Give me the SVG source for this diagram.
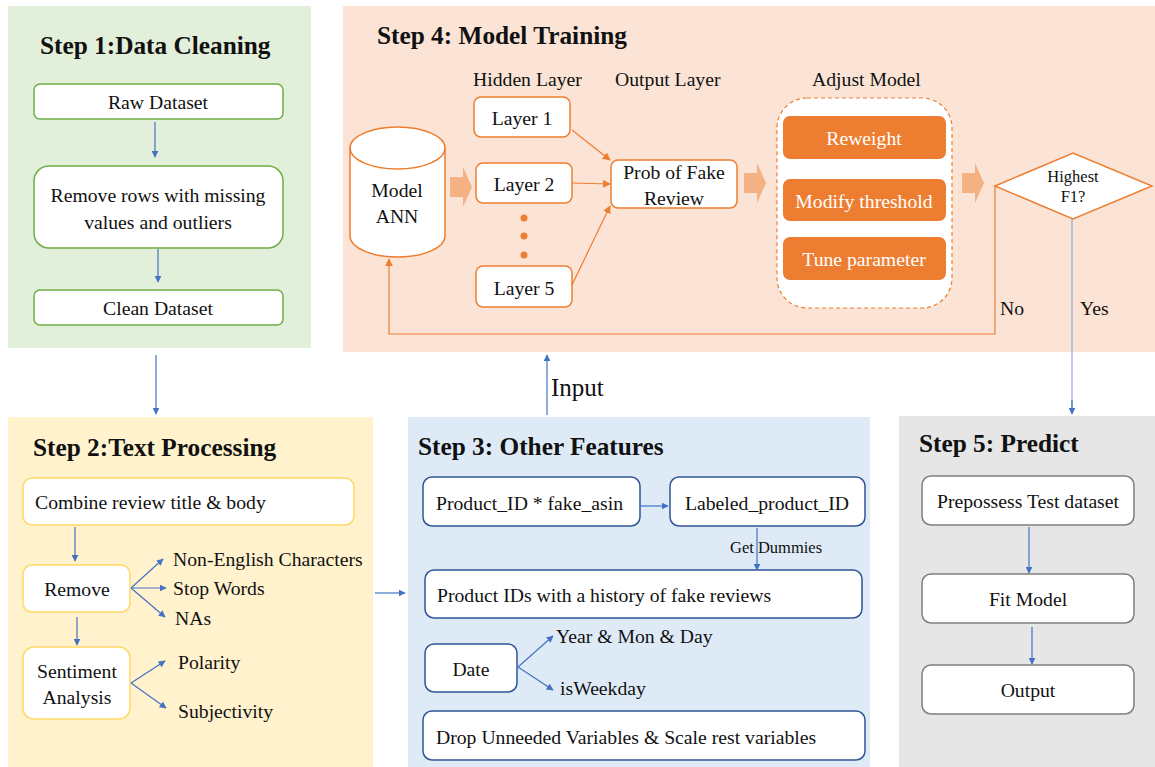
<svg xmlns="http://www.w3.org/2000/svg" width="1155" height="767" viewBox="0 0 1155 767">
<defs>
<style>
text{font-family:"Liberation Serif","Times New Roman",serif;fill:#111}
.t{font-size:25.3px;font-weight:bold}
.b{font-size:19.7px}
.s{font-size:16.5px}
.m{text-anchor:middle}
.g{fill:#fff;stroke:#70AD47;stroke-width:1.5}
.y{fill:#fff;stroke:#FFD966;stroke-width:1.5}
.bl{fill:#fff;stroke:#2F5597;stroke-width:1.5}
.gr{fill:#fff;stroke:#7F7F7F;stroke-width:1.5}
.o{fill:#fff;stroke:#ED7D31;stroke-width:1.5}
.of{fill:#ED7D31;stroke:none}
text.w{fill:#fff}
.ab{stroke:#4472C4;stroke-width:1.2;fill:none}
.ao{stroke:#ED7D31;stroke-width:1.2;fill:none}
.blk{fill:#F4B183}
</style>
<marker id="mb" viewBox="0 0 10 10" refX="9" refY="5" markerWidth="7" markerHeight="7" orient="auto" markerUnits="userSpaceOnUse"><path d="M0,0L10,5L0,10z" fill="#4472C4"/></marker>
<marker id="mo" viewBox="0 0 10 10" refX="9" refY="5" markerWidth="8" markerHeight="8" orient="auto" markerUnits="userSpaceOnUse"><path d="M0,0L10,5L0,10z" fill="#ED7D31"/></marker>
</defs>
<rect width="1155" height="767" fill="#fff"/>
<!-- panels -->
<g id="step1">
<rect x="8" y="6" width="303" height="342" fill="#E2EFDA"/>
<text class="t" x="40" y="54">Step 1:Data Cleaning</text>
</g>
<g id="step4">
<rect x="343" y="6" width="812" height="346" fill="#FBE4D5"/>
<text class="t" x="377" y="44">Step 4: Model Training</text>
<text class="b" x="473" y="86">Hidden Layer</text>
<text class="b" x="615" y="86">Output Layer</text>
<text class="b" x="812" y="86">Adjust Model</text>
</g>
<g id="step2">
<rect x="8" y="417" width="365" height="350" fill="#FFF2CC"/>
<text class="t" x="33" y="456">Step 2:Text Processing</text>
</g>
<g id="step3">
<rect x="408" y="417" width="462" height="350" fill="#DEEBF7"/>
<text class="t" x="418" y="455">Step 3: Other Features</text>
</g>
<g id="step5">
<rect x="899" y="416" width="256" height="351" fill="#E6E6E6"/>
<text class="t" x="919" y="452">Step 5: Predict</text>
</g>
<!-- step 1 nodes -->
<g id="raw"><rect class="g" x="34" y="84" width="249" height="35" rx="6"/><text class="b m" x="158" y="109">Raw Dataset</text></g>
<g id="removeRows"><rect class="g" x="34" y="166" width="249" height="82" rx="15"/><text class="b m" x="158" y="202">Remove rows with missing</text><text class="b m" x="158" y="229">values and outliers</text></g>
<g id="clean"><rect class="g" x="34" y="290" width="249" height="35" rx="6"/><text class="b m" x="158" y="315">Clean Dataset</text></g>
<!-- step 4 nodes -->
<g id="ann">
<path d="M350,148 V236 A47.5,21 0 0 0 445,236 V148" class="o"/>
<ellipse cx="397.5" cy="148" rx="47.5" ry="21" class="o"/>
<text class="b m" x="397" y="197">Model</text><text class="b m" x="397" y="223">ANN</text>
</g>
<g id="layer1"><rect class="o" x="474" y="97" width="96" height="40" rx="7"/><text class="b m" x="522" y="125">Layer 1</text></g>
<g id="layer2"><rect class="o" x="476" y="163" width="96" height="40" rx="7"/><text class="b m" x="524" y="191">Layer 2</text></g>
<g id="dots" fill="#ED7D31"><circle cx="524" cy="218" r="3.5"/><circle cx="524" cy="236" r="3.5"/><circle cx="524" cy="255" r="3.5"/></g>
<g id="layer5"><rect class="o" x="476" y="266" width="96" height="41" rx="7"/><text class="b m" x="524" y="295">Layer 5</text></g>
<g id="prob"><rect class="o" x="611" y="160" width="126" height="48" rx="7"/><text class="b m" x="674" y="179">Prob of Fake</text><text class="b m" x="674" y="205">Review</text></g>
<g id="adjust"><rect x="777" y="98" width="175" height="210" rx="30" fill="#fff" stroke="#ED7D31" stroke-width="1.2" stroke-dasharray="4,3"/></g>
<g id="reweight"><rect class="of" x="783" y="116" width="163" height="43" rx="7"/><text class="b m w" x="864" y="145">Reweight</text></g>
<g id="threshold"><rect class="of" x="783" y="179" width="163" height="42" rx="7"/><text class="b m w" x="864" y="208">Modify threshold</text></g>
<g id="tune"><rect class="of" x="783" y="237" width="163" height="43" rx="7"/><text class="b m w" x="864" y="266">Tune parameter</text></g>
<g id="highest"><path d="M995,186 L1073,153 L1152,186 L1073,219 Z" class="o"/><text class="m" x="1073" y="182" font-size="16.5">Highest</text><text class="m" x="1073" y="202" font-size="16.5">F1?</text></g>
<!-- step 2 nodes -->
<g id="combine"><rect class="y" x="23" y="478" width="331" height="47" rx="9"/><text class="b" x="35" y="509">Combine review title &amp; body</text></g>
<g id="remove"><rect class="y" x="23" y="565" width="107" height="47" rx="9"/><text class="b m" x="77" y="596">Remove</text></g>
<g id="sentiment"><rect class="y" x="23" y="647" width="107" height="72" rx="11"/><text class="b m" x="77" y="678">Sentiment</text><text class="b m" x="77" y="704">Analysis</text></g>
<text class="b" x="173" y="566">Non-English Characters</text>
<text class="b" x="173" y="595">Stop Words</text>
<text class="b" x="175" y="625">NAs</text>
<text class="b" x="178" y="669">Polarity</text>
<text class="b" x="178" y="718">Subjectivity</text>
<!-- step 3 nodes -->
<g id="productID"><rect class="bl" x="423" y="477" width="217" height="49" rx="9"/><text class="b" x="436" y="510">Product_ID * fake_asin</text></g>
<g id="labeled"><rect class="bl" x="670" y="477" width="195" height="49" rx="9"/><text class="b m" x="767" y="510">Labeled_product_ID</text></g>
<g id="history"><rect class="bl" x="425" y="570" width="437" height="48" rx="9"/><text class="b" x="437" y="602">Product IDs with a history of fake reviews</text></g>
<g id="date"><rect class="bl" x="425" y="644" width="92" height="48" rx="9"/><text class="b m" x="471" y="676">Date</text></g>
<g id="drop"><rect class="bl" x="423" y="711" width="442" height="49" rx="9"/><text class="b" x="436" y="744">Drop Unneeded Variables &amp; Scale rest variables</text></g>
<text class="b" x="556" y="643">Year &amp; Mon &amp; Day</text>
<text class="b" x="560" y="695">isWeekday</text>
<!-- step 5 nodes -->
<g id="prep"><rect class="gr" x="922" y="476" width="212" height="49" rx="9"/><text class="b m" x="1028" y="508">Prepossess Test dataset</text></g>
<g id="fit"><rect class="gr" x="922" y="574" width="212" height="49" rx="9"/><text class="b m" x="1028" y="606">Fit Model</text></g>
<g id="output"><rect class="gr" x="922" y="665" width="212" height="49" rx="9"/><text class="b m" x="1028" y="697">Output</text></g>
<!-- connectors -->
<g id="connectors">
<line class="ab" x1="155" y1="122" x2="155" y2="157" marker-end="url(#mb)"/>
<line class="ab" x1="158" y1="249" x2="158" y2="282" marker-end="url(#mb)"/>
<line class="ab" x1="156" y1="355" x2="156" y2="414" marker-end="url(#mb)"/>
<line class="ab" x1="75" y1="527" x2="75" y2="561" marker-end="url(#mb)"/>
<line class="ab" x1="131" y1="588" x2="163" y2="559" marker-end="url(#mb)"/>
<line class="ab" x1="131" y1="588" x2="166" y2="588" marker-end="url(#mb)"/>
<line class="ab" x1="131" y1="588" x2="165" y2="617" marker-end="url(#mb)"/>
<line class="ab" x1="77" y1="617" x2="77" y2="645" marker-end="url(#mb)"/>
<line class="ab" x1="131" y1="683" x2="165" y2="661" marker-end="url(#mb)"/>
<line class="ab" x1="131" y1="683" x2="166" y2="708" marker-end="url(#mb)"/>
<line class="ab" x1="375" y1="593" x2="405" y2="593" marker-end="url(#mb)"/>
<line class="ab" x1="640" y1="506" x2="668" y2="506" marker-end="url(#mb)"/>
<line class="ab" x1="757" y1="528" x2="757" y2="570" marker-end="url(#mb)"/>
<text class="s" x="730" y="553">Get Dummies</text>
<line class="ab" x1="518" y1="667" x2="553" y2="636" marker-end="url(#mb)"/>
<line class="ab" x1="518" y1="667" x2="553" y2="690" marker-end="url(#mb)"/>
<line class="ab" x1="1029" y1="527" x2="1029" y2="573" marker-end="url(#mb)"/>
<line class="ab" x1="1032" y1="627" x2="1032" y2="664" marker-end="url(#mb)"/>
<line class="ab" x1="547" y1="415" x2="547" y2="355" marker-end="url(#mb)"/>
<text x="551" y="396" font-size="25">Input</text>
<line x1="1072" y1="219" x2="1072" y2="413" stroke="#8FAADC" stroke-width="1.2"/>
<line class="ab" x1="1072" y1="400" x2="1072" y2="414" marker-end="url(#mb)"/>
<path class="ao" d="M995,186 V334 H389 V259" marker-end="url(#mo)"/>
<text class="b" x="1000" y="315">No</text>
<text class="b" x="1080" y="315">Yes</text>
<line class="ao" x1="572" y1="130" x2="610" y2="160" marker-end="url(#mo)"/>
<line class="ao" x1="572" y1="183" x2="610" y2="184" marker-end="url(#mo)"/>
<line class="ao" x1="572" y1="285" x2="610" y2="206" marker-end="url(#mo)"/>
<path class="blk" d="M450,177 H463 V167 L472,187 L463,207 V197 H450 Z"/>
<path class="blk" d="M744,173 H757 V163 L766,183 L757,203 V193 H744 Z"/>
<path class="blk" d="M962,173 H975 V163 L984,183 L975,203 V193 H962 Z"/>
</g>
</svg>
